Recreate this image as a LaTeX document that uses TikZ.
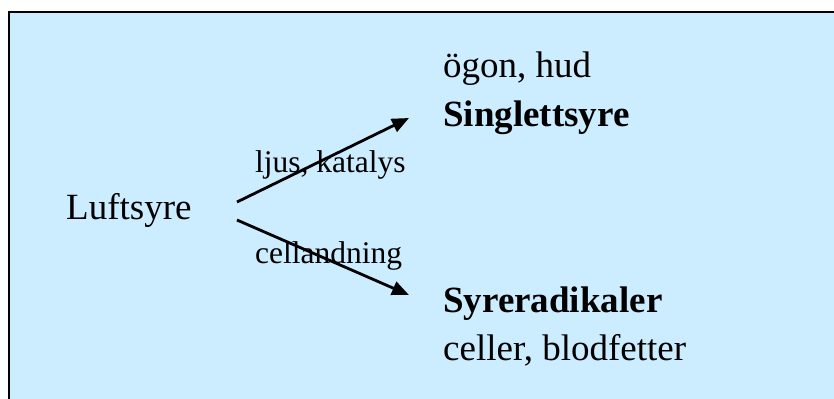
\documentclass[tikz,border=0pt]{standalone}
\usepackage{fontspec}
\setmainfont{Liberation Serif}
\usetikzlibrary{arrows.meta}
\definecolor{bgblue}{RGB}{204,236,255}
\begin{document}
\begin{tikzpicture}[x=1bp,y=-1bp,
  bigtxt/.style={anchor=base west,inner sep=0pt,font=\fontsize{37bp}{40bp}\selectfont},
  boldtxt/.style={bigtxt,font=\fontsize{37bp}{40bp}\selectfont\bfseries},
  lbltxt/.style={anchor=base west,inner sep=0pt,font=\fontsize{31.5bp}{34bp}\selectfont},
  conn/.style={line width=2.8bp,-{Triangle[length=17bp,width=14bp]}}]
\useasboundingbox (0,0) rectangle (834,398);
\clip (0,0) rectangle (834,398);
\fill[white] (0,0) rectangle (834,398);
\draw[fill=bgblue,line width=2.5bp] (9,12) rectangle (845,410);
\node[bigtxt] (luft) at (66,219) {Luftsyre};
\node[bigtxt] (ogon) at (443,77) {ögon, hud};
\node[boldtxt] (singlett) at (443,126) {Singlettsyre};
\node[boldtxt] (radikal) at (443,312) {Syreradikaler};
\node[bigtxt] (celler) at (443,360) {celler, blodfetter};
\node[lbltxt] (ljus) at (255,172) {ljus, katalys};
\node[lbltxt] (cell) at (255,263) {cellandning};
\coordinate (s1) at (237,202);
\coordinate (e1) at (409,118);
\coordinate (s2) at (237,220);
\coordinate (e2) at (409,295);
\draw[conn] (s1) -- (e1);
\draw[conn] (s2) -- (e2);
\end{tikzpicture}
\end{document}
